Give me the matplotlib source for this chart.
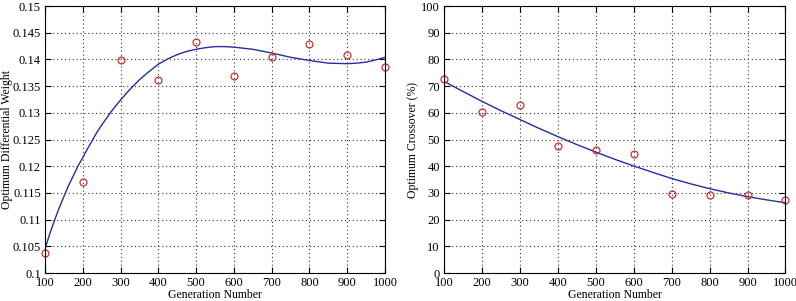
import matplotlib
matplotlib.use("Agg")
import matplotlib.pyplot as plt

# Data
gen = [100, 200, 300, 400, 500, 600, 700, 800, 900, 1000]
weight = [0.1037, 0.1170, 0.1399, 0.1361, 0.1433, 0.1369, 0.1405, 0.1429, 0.1408, 0.1386]
crossover = [72.5, 60.2, 63.0, 47.6, 46.2, 44.6, 29.5, 29.2, 29.1, 27.2]

# Fitted curves
fit_w_x = [100, 112, 125, 137, 150, 162, 175, 187, 200, 212, 225, 237, 250, 275, 300,
           325, 350, 375, 400, 425, 450, 475, 500, 525, 550, 575, 600, 650, 700,
           750, 800, 850, 900, 925, 950, 975, 1000]
fit_w_y = [0.1045, 0.1072, 0.1098, 0.1121, 0.1143, 0.1163, 0.1182, 0.1200, 0.1216,
           0.1232, 0.1248, 0.1263, 0.1277, 0.1302, 0.1324, 0.1344, 0.1362, 0.1377,
           0.1391, 0.1401, 0.1409, 0.1415, 0.1419, 0.1422, 0.1424, 0.1424, 0.1423,
           0.1419, 0.1412, 0.1404, 0.1398, 0.1393, 0.1392, 0.1393, 0.1395, 0.1399, 0.1404]
fit_c_x = [100, 150, 200, 250, 300, 350, 400, 450, 500, 550, 600, 650, 700, 750, 800,
           850, 900, 950, 1000]
fit_c_y = [71.8, 68.0, 64.3, 60.8, 57.5, 54.2, 51.1, 48.1, 45.3, 42.6, 40.1, 37.7,
           35.4, 33.4, 31.6, 30.0, 28.6, 27.4, 26.3]

plt.rcParams['font.family'] = ['Liberation Serif', 'DejaVu Serif']
plt.rcParams['font.size'] = 9

fig = plt.figure(figsize=(7.96, 3.01), dpi=100)
ax1 = fig.add_axes([0.0565, 0.093, 0.4272, 0.887])
ax2 = fig.add_axes([0.5578, 0.093, 0.4290, 0.887])

line_col = '#2b2b9a'
mk_col = '#c83232'

def style(ax):
    ax.grid(True, linestyle=(0, (1, 2.5)), color='#333333', linewidth=0.8)
    ax.tick_params(direction='in', top=True, right=True, length=4, pad=3, labelsize=9)
    for s in ax.spines.values():
        s.set_linewidth(0.8)
    ax.set_xlim(100, 1000)
    ax.set_xticks(gen)
    ax.set_xlabel('Generation Number', labelpad=0, fontsize=8.5)

ax1.plot(fit_w_x, fit_w_y, color=line_col, linewidth=1.0)
ax1.plot(gen, weight, 'o', mfc='none', mec=mk_col, ms=5, mew=0.9, clip_on=False)
ax1.set_ylim(0.1, 0.15)
ax1.set_yticks([0.1, 0.105, 0.11, 0.115, 0.12, 0.125, 0.13, 0.135, 0.14, 0.145, 0.15])
ax1.set_yticklabels(['0.1', '0.105', '0.11', '0.115', '0.12', '0.125', '0.13', '0.135',
                     '0.14', '0.145', '0.15'])
ax1.set_ylabel('Optimum Differential Weight', fontsize=8.5)
style(ax1)
ax1.yaxis.set_label_coords(-0.095, 0.5)

ax2.plot(fit_c_x, fit_c_y, color=line_col, linewidth=1.0)
ax2.plot(gen, crossover, 'o', mfc='none', mec=mk_col, ms=5, mew=0.9, clip_on=False)
ax2.set_ylim(0, 100)
ax2.set_yticks(range(0, 101, 10))
ax2.set_ylabel('Optimum Crossover (%)', fontsize=8.5)
style(ax2)
ax2.yaxis.set_label_coords(-0.072, 0.5)

fig.savefig('out.png', dpi=100)
